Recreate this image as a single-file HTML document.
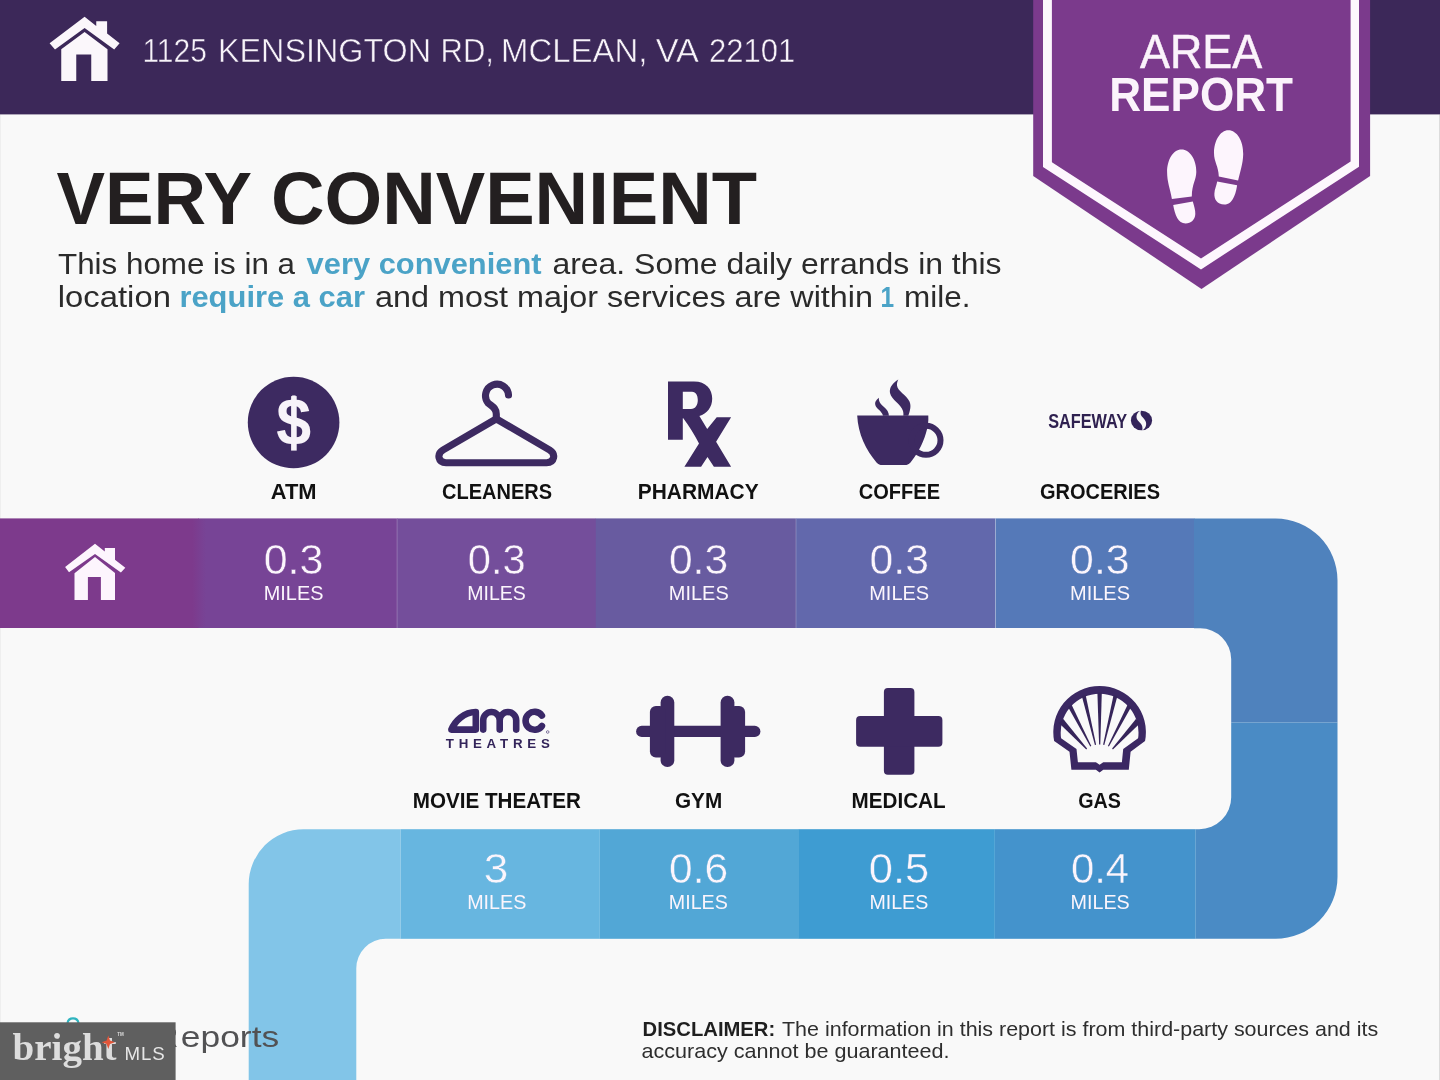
<!DOCTYPE html>
<html>
<head>
<meta charset="utf-8">
<title>Area Report</title>
<style>
html,body{margin:0;padding:0;background:#f9f9f9;}
body{width:1440px;height:1080px;overflow:hidden;position:relative;font-family:"Liberation Sans",sans-serif;}
svg{position:absolute;left:0;top:0;display:block;will-change:transform;}
text{font-family:"Liberation Sans",sans-serif;}
.b{font-weight:bold;}
.serif{font-family:"Liberation Serif",serif;}
</style>
</head>
<body>
<svg width="1440" height="1080" viewBox="0 0 1440 1080">
<!-- page background -->
<rect x="0" y="0" width="1440" height="1080" fill="#f9f9f9"/>
<rect x="1439" y="114.4" width="1" height="966" fill="#dcdcdc"/>
<rect x="0" y="114.4" width="1" height="966" fill="#efefef"/>

<!-- header bar -->
<rect x="0" y="0" width="1440" height="114.4" fill="#3c2859"/>

<!-- ROAD -->
<g id="road">
<!-- top row -->
<rect x="0" y="518.4" width="199" height="109.6" fill="#7d3a8c"/>
<rect x="198.5" y="518.4" width="199" height="109.6" fill="#774496"/>
<rect x="397" y="518.4" width="199" height="109.6" fill="#744e9b"/>
<defs><linearGradient id="g01" x1="0" x2="1" y1="0" y2="0"><stop offset="0" stop-color="#7d3a8c"/><stop offset="1" stop-color="#774496"/></linearGradient></defs>
<rect x="192" y="519.4" width="14" height="107.6" fill="url(#g01)"/>
<rect x="595.8" y="518.4" width="200.4" height="109.6" fill="#685ba0"/>
<rect x="796" y="518.4" width="199.5" height="109.6" fill="#6268ac"/>
<rect x="995.5" y="518.4" width="199" height="109.6" fill="#5579b8"/>
<!-- top-right corner -->
<path d="M1194 518.4 H1275.5 A62 62 0 0 1 1337.5 580.5 V722.5 H1231.2 V659.3 A31 31 0 0 0 1200.2 628.3 H1194 Z" fill="#4f82bd"/>
<!-- bottom-right corner -->
<path d="M1231.2 722.5 H1337.5 V876.8 A62 62 0 0 1 1275.5 938.8 H1195.5 V829.2 H1199.2 A32 32 0 0 0 1231.2 797.2 Z" fill="#4a8bc5"/>
<!-- bottom row -->
<rect x="994.6" y="829.2" width="201" height="109.6" fill="#4493cc"/>
<rect x="798.8" y="829.2" width="196" height="109.6" fill="#3e9cd2"/>
<rect x="599.6" y="829.2" width="199.4" height="109.6" fill="#52a7d6"/>
<rect x="400.5" y="829.2" width="199.3" height="109.6" fill="#67b6e0"/>
<!-- bottom-left corner + down leg -->
<path d="M400.6 829.2 H303.7 A55 55 0 0 0 248.7 884.2 V1080 H356.3 V968.3 A29.5 29.5 0 0 1 385.8 938.8 H400.6 Z" fill="#82c5e8"/>
<!-- seams -->
<g stroke="#ffffff" stroke-opacity="0.22" stroke-width="1">
<line x1="397.1" y1="518.4" x2="397.1" y2="628"/>
<line x1="796" y1="518.4" x2="796" y2="628"/>
<line x1="995.5" y1="518.4" x2="995.5" y2="628"/>
</g>
</g>


<!-- BADGE -->
<g id="badge">
<polygon points="1033.2,0 1370.1,0 1370.1,176 1201.5,288.9 1033.2,176" fill="#7b3a8c"/>
<path d="M1043 0 V166.9 L1201 269.4 L1359 166.7 V0 H1350.6 V161.6 L1201 258.5 L1051.9 162.2 V0 Z" fill="#fdf7fd"/>
<text x="1140" y="67.9" font-size="47.5" fill="#fbf3fb" stroke="#fbf3fb" stroke-width="0.5" textLength="122.2" lengthAdjust="spacingAndGlyphs">AREA</text>
<text x="1109.2" y="111" font-size="47.5" class="b" fill="#fbf3fb" textLength="183.8" lengthAdjust="spacingAndGlyphs">REPORT</text>
<!-- footprints -->
<g fill="#fdf5fd">
<path d="M1181.5 149.5 C1190 149.5 1196.5 160 1196.3 172 C1196.2 180 1192 184 1191.8 196.4 L1171.9 199 C1170 188 1167.1 182 1167.1 172 C1167.1 160 1173 149.5 1181.5 149.5 Z"/>
<path d="M1173.2 205 L1192.8 201.5 C1194 206 1195.5 210 1195.3 214 C1195 220 1191 223.4 1185.6 223.4 C1178 223.4 1175 215 1173.2 205 Z"/>
<path d="M1228.4 130.2 C1237 130.2 1243.4 141 1243.2 154 C1243 164 1240 172 1238.1 180.6 L1218.8 176.5 C1218.5 166 1214 162 1214 153 C1214 141 1220 130.2 1228.4 130.2 Z"/>
<path d="M1217.2 181.6 L1237.1 185.2 C1236 193 1233 204.5 1224.4 204.5 C1217 204.5 1214 199 1214.4 193.5 C1214.6 189 1216.5 186 1217.2 181.6 Z"/>
</g>
</g>

<!-- HEADER CONTENT -->
<g id="hdr">
<g fill="#fbf7fb">
<path d="M84.6 16.7 L96.25 26 V21.25 H107.1 V33.4 L119.6 43.3 L114.2 49.4 L84.6 27.9 L55 49.6 L49.6 43.3 Z"/>
<path d="M84.6 32.1 L107.5 49.2 V81 H91.25 V54.6 H76.25 V81 H61.25 V49.2 Z"/>
</g>
<text x="142.4" y="61.7" font-size="33" fill="#f7f3f9" stroke="#3c2859" stroke-width="0.5" textLength="64.5" lengthAdjust="spacingAndGlyphs">1125</text>
<text x="218.0" y="61.7" font-size="33" fill="#f7f3f9" stroke="#3c2859" stroke-width="0.5" textLength="213.0" lengthAdjust="spacingAndGlyphs">KENSINGTON</text>
<text x="440.5" y="61.7" font-size="33" fill="#f7f3f9" stroke="#3c2859" stroke-width="0.5" textLength="53.5" lengthAdjust="spacingAndGlyphs">RD,</text>
<text x="501.0" y="61.7" font-size="33" fill="#f7f3f9" stroke="#3c2859" stroke-width="0.5" textLength="146.5" lengthAdjust="spacingAndGlyphs">MCLEAN,</text>
<text x="655.7" y="61.7" font-size="33" fill="#f7f3f9" stroke="#3c2859" stroke-width="0.5" textLength="43.2" lengthAdjust="spacingAndGlyphs">VA</text>
<text x="709.1" y="61.7" font-size="33" fill="#f7f3f9" stroke="#3c2859" stroke-width="0.5" textLength="86.2" lengthAdjust="spacingAndGlyphs">22101</text>
</g>

<!-- HEADLINE -->
<text x="56.4" y="223.6" font-size="73.8" class="b" fill="#231f20" textLength="195.6" lengthAdjust="spacingAndGlyphs">VERY</text>
<text x="270.9" y="223.6" font-size="73.8" class="b" fill="#231f20" textLength="486.2" lengthAdjust="spacingAndGlyphs">CONVENIENT</text>

<!-- PARAGRAPH -->
<g font-size="28.6" fill="#2b2b2b">
<text x="58.0" y="274.2" textLength="237.0" lengthAdjust="spacingAndGlyphs">This home is in a</text>
<text x="306.6" y="274.2" class="b" fill="#4ba3c7" textLength="235.0" lengthAdjust="spacingAndGlyphs">very convenient</text>
<text x="552.4" y="274.2" textLength="449.2" lengthAdjust="spacingAndGlyphs">area. Some daily errands in this</text>
<text x="57.8" y="306.5" textLength="113.1" lengthAdjust="spacingAndGlyphs">location</text>
<text x="179.4" y="306.5" class="b" fill="#4ba3c7" textLength="185.6" lengthAdjust="spacingAndGlyphs">require a car</text>
<text x="375.0" y="306.5" textLength="498.0" lengthAdjust="spacingAndGlyphs">and most major services are within</text>
<text x="880.4" y="306.5" class="b" fill="#4ba3c7" textLength="13.6" lengthAdjust="spacingAndGlyphs">1</text>
<text x="904.0" y="306.5" textLength="66.4" lengthAdjust="spacingAndGlyphs">mile.</text>
</g>

<!-- LABELS -->
<g font-size="21.5" class="b" fill="#111111">
<text x="270.8" y="499.1" textLength="45.8" lengthAdjust="spacingAndGlyphs">ATM</text>
<text x="442.0" y="499.1" textLength="110.0" lengthAdjust="spacingAndGlyphs">CLEANERS</text>
<text x="637.8" y="499.1" textLength="120.8" lengthAdjust="spacingAndGlyphs">PHARMACY</text>
<text x="858.75" y="499.1" textLength="81.25" lengthAdjust="spacingAndGlyphs">COFFEE</text>
<text x="1040.0" y="499.1" textLength="120.0" lengthAdjust="spacingAndGlyphs">GROCERIES</text>
<text x="412.8" y="808.2" textLength="168.1" lengthAdjust="spacingAndGlyphs">MOVIE THEATER</text>
<text x="675" y="808.2" textLength="47.2" lengthAdjust="spacingAndGlyphs">GYM</text>
<text x="851.6" y="808.2" textLength="94.0" lengthAdjust="spacingAndGlyphs">MEDICAL</text>
<text x="1078.3" y="808.2" textLength="42.7" lengthAdjust="spacingAndGlyphs">GAS</text>
</g>

<!-- NUMBERS -->
<g font-size="43" fill="#fbf5fc">
<text x="263.7" y="574.4" stroke="#774496" stroke-width="0.45" textLength="59.7" lengthAdjust="spacingAndGlyphs">0.3</text>
<text x="467.8" y="574.4" stroke="#744e9b" stroke-width="0.45" textLength="58.0" lengthAdjust="spacingAndGlyphs">0.3</text>
<text x="668.9" y="574.4" stroke="#685ba0" stroke-width="0.45" textLength="59.2" lengthAdjust="spacingAndGlyphs">0.3</text>
<text x="869.6" y="574.4" stroke="#6268ac" stroke-width="0.45" textLength="59.4" lengthAdjust="spacingAndGlyphs">0.3</text>
<text x="1070.1" y="574.4" stroke="#5579b8" stroke-width="0.45" textLength="59.5" lengthAdjust="spacingAndGlyphs">0.3</text>
<text x="483.8" y="883.3" stroke="#67b6e0" stroke-width="0.45" textLength="24.6" lengthAdjust="spacingAndGlyphs">3</text>
<text x="669.0" y="883.3" stroke="#52a7d6" stroke-width="0.45" textLength="59.1" lengthAdjust="spacingAndGlyphs">0.6</text>
<text x="868.7" y="883.3" stroke="#3e9cd2" stroke-width="0.45" textLength="60.5" lengthAdjust="spacingAndGlyphs">0.5</text>
<text x="1070.9" y="883.3" stroke="#4493cc" stroke-width="0.45" textLength="58.3" lengthAdjust="spacingAndGlyphs">0.4</text>
</g>
<g font-size="21" fill="#fbf5fc">
<text x="263.8" y="600" textLength="59.6" lengthAdjust="spacingAndGlyphs">MILES</text>
<text x="467.2" y="600" textLength="58.6" lengthAdjust="spacingAndGlyphs">MILES</text>
<text x="668.8" y="600" textLength="59.9" lengthAdjust="spacingAndGlyphs">MILES</text>
<text x="869.2" y="600" textLength="60.0" lengthAdjust="spacingAndGlyphs">MILES</text>
<text x="1070.0" y="600" textLength="60.0" lengthAdjust="spacingAndGlyphs">MILES</text>
<text x="467.2" y="908.9" textLength="59.2" lengthAdjust="spacingAndGlyphs">MILES</text>
<text x="668.8" y="908.9" textLength="59.0" lengthAdjust="spacingAndGlyphs">MILES</text>
<text x="869.4" y="908.9" textLength="58.9" lengthAdjust="spacingAndGlyphs">MILES</text>
<text x="1070.5" y="908.9" textLength="59.3" lengthAdjust="spacingAndGlyphs">MILES</text>
</g>

<!-- DISCLAIMER -->
<g font-size="19.8" fill="#2e2e2e">
<text x="642.6" y="1035.6" class="b" fill="#1f1f1f" textLength="132.6" lengthAdjust="spacingAndGlyphs">DISCLAIMER:</text>
<text x="782.0" y="1035.6" textLength="596.2" lengthAdjust="spacingAndGlyphs">The information in this report is from third-party sources and its</text>
<text x="641.4" y="1057.5" textLength="308.2" lengthAdjust="spacingAndGlyphs">accuracy cannot be guaranteed.</text>
</g>


<!-- ICONS -->
<g id="icons" fill="#3d2a61">
<!-- ATM -->
<circle cx="293.6" cy="422.5" r="45.8"/>
<text id="dollar" x="276.3" y="445.3" font-size="67" class="b" fill="#f7f3f9" textLength="34.9" lengthAdjust="spacingAndGlyphs">$</text>
<rect x="291.1" y="396.1" width="5.6" height="54.5" fill="#f7f3f9"/>
<!-- hanger -->
<g fill="none" stroke="#3d2a61" stroke-width="7.1" stroke-linecap="round" stroke-linejoin="round">
<path d="M508.5 395 A11.5 11.5 0 1 0 488.2 403.1 C492 406.5 496.3 408 496.3 414 L496.3 418.9"/>
<path d="M496.3 418.9 L443 450 C436.5 454 438 462.7 446 462.7 L546.6 462.7 C554.6 462.7 556.1 454 549.6 450 Z"/>
</g>
<!-- Rx -->
<path fill-rule="evenodd" d="M668 381.4 H694 C706 381.4 712.2 389 712.2 398.5 C712.2 407.5 707 413.5 699.4 416.1 L707.2 429 L716.7 417.2 H731.1 L716.1 441.7 L731.1 466.7 H713.9 L707.5 457 L701.1 466.7 H684.4 L699 443.5 C694.5 435 689.5 426.5 683.3 418.3 L682.8 418.3 V439.7 H668 Z M682.8 391.7 H692 C696 391.7 697.8 395.5 697.8 400 C697.8 405 695.5 408.9 691 408.9 H682.8 Z"/>
<!-- coffee -->
<path d="M857.2 415.6 H928.3 C928.6 421 928 427 926 433 C922.5 445 916 456 910.5 462.5 C908.5 464.5 907 465 905 465 H882 C880 465 878.5 464.5 876.5 462.5 C866 450 858 434 857.2 415.6 Z"/>
<circle cx="926" cy="440.3" r="14.5" fill="none" stroke="#3d2a61" stroke-width="6"/>
<path d="M898.3 379.4 C893 383 889 387 890 393 C891.5 400 901 404 903 411 C903.5 413 903.5 414.5 903.3 415.8 H908.3 C910 411 911.5 406 909.5 401.5 C906.5 395 897.5 391 897 385.5 C896.8 383 897.5 381 898.3 379.4 Z"/>
<path d="M878.9 397.8 C876 400 874.5 402.5 875.3 405 C876.5 409 882 411 883 415.8 H888.9 C889 412.5 887 409.5 884 407 C881 404.5 878.5 402 878.9 397.8 Z"/>
<!-- safeway -->
<text x="1048.2" y="427.5" font-size="20" class="b" fill="#2f2150" textLength="79.0" lengthAdjust="spacingAndGlyphs">SAFEWAY</text>
<ellipse cx="1141.5" cy="420.5" rx="10.6" ry="9.8" fill="#33245a"/>
<path d="M1141 410.6 C1136.5 412.5 1135.5 417 1137.5 420 C1139.5 423 1143.5 424.5 1142.3 430.4 C1147 427.5 1147 422.5 1144.5 419.5 C1142 416.5 1139.5 415 1141 410.6 Z" fill="#f9f9f9"/>
<!-- amc -->
<g fill="none" stroke="#3a2868" stroke-width="6.6" stroke-linecap="round" stroke-linejoin="round">
<path d="M475.8 712.05 V729.6 H451.4 C455 721 464 712.05 475.8 712.05"/>
<path d="M483.2 729.6 V720.3 A8.25 8.25 0 0 1 499.7 720.3 V729.6 M499.7 720.3 A8.25 8.25 0 0 1 516.2 720.3 V729.6"/>
<path d="M541.9 715.6 A9 9 0 1 0 541.9 726"/>
</g>
<circle cx="547.7" cy="732" r="1.3" fill="none" stroke="#3a2868" stroke-width="0.6"/>
<text x="445.75" y="747.5" font-size="13.3" class="b" fill="#33245a" textLength="104" lengthAdjust="spacing">THEATRES</text>
<!-- gym -->
<rect x="636.1" y="725.8" width="124.3" height="11.2" rx="5.6"/>
<rect x="660.6" y="695.8" width="13.7" height="71.3" rx="6.8"/>
<rect x="649.9" y="706" width="16" height="51.4" rx="6"/>
<rect x="720.6" y="695.8" width="13.8" height="71.3" rx="6.8"/>
<rect x="729" y="706" width="16.1" height="51.4" rx="6"/>
<!-- medical -->
<rect x="883.9" y="688.1" width="30.5" height="86.6" rx="4"/>
<rect x="856.1" y="716.1" width="86.3" height="30.6" rx="4"/>
<!-- shell -->
<path fill-rule="evenodd" fill="#3b2863" d="M1071.4 769.8 L1069.5 751.8 L1054.15 741.1 A46.3 46.3 0 1 1 1145.05 741.1 L1130.6 751.8 L1128.8 769.8 H1103.3 L1099.6 772.6 L1095.9 769.8 Z M1077.9 762.2 L1076.5 749 L1061.1 738.3 A38.9 38.9 0 1 1 1138.1 738.3 L1123.2 749 L1121.9 762.2 H1103.3 L1099.6 764.7 L1095.9 762.2 Z"/>
<g fill="#36255a">
<polygon points="1101.8,692.4 1097.4,692.4 1099.1,744.4 1100.3,744.4"/>
<polygon points="1085.7,695.2 1081.8,696.1 1094.9,744.9 1096.1,744.7"/>
<polygon points="1113.5,695.2 1117.4,696.1 1104.3,744.9 1103.1,744.7"/>
<polygon points="1071.6,704.7 1067.9,706.7 1090.3,746.5 1091.3,745.9"/>
<polygon points="1127.6,704.7 1131.3,706.7 1108.9,746.5 1107.9,745.9"/>
<polygon points="1063.3,718.9 1058.9,723.0 1086.3,749.4 1087.1,748.6"/>
<polygon points="1135.9,718.9 1140.3,723.0 1112.9,749.4 1112.1,748.6"/>
</g>
</g>

<!-- home icon on road -->
<g fill="#fdf5fd" id="home2">
<path d="M95 543.8 L104.8 551.6 V548.1 H115 V559.7 L125.3 567.8 L120.9 572.6 L95 554 L69 572.2 L65.1 567 Z"/>
<path d="M95 557.1 L115 572.9 V600 H100.9 V577 H87.9 V600 H74.5 V573.3 Z"/>
</g>

<!-- bottom-left logo remnants + watermark -->
<g id="wm">
<path d="M67.5 1023 A5.6 5.6 0 0 1 78.5 1023" fill="none" stroke="#2fb4bf" stroke-width="2.2"/>
<text x="157.3" y="1046.9" font-size="29" fill="#525254"><tspan>R</tspan><tspan x="180.8" textLength="98.4" lengthAdjust="spacingAndGlyphs">eports</tspan></text>
<rect x="0" y="1022.3" width="175.6" height="57.7" fill="#5f5f5f"/>
<text x="12.6" y="1060.4" font-size="38.5" class="serif b" fill="#dddddd" textLength="104" lengthAdjust="spacingAndGlyphs">bright</text>
<path d="M108.3 1035.6 L110 1040.6 L115 1042.3 L110 1044 L108.3 1049 L106.6 1044 L101.6 1042.3 L106.6 1040.6 Z" fill="#e2563a"/>
<text x="117.2" y="1036" font-size="4.5" fill="#dddddd" class="b">TM</text>
<text x="124.6" y="1060.4" font-size="18.7" fill="#e6e6e6" textLength="40.2" lengthAdjust="spacing">MLS</text>
</g>

</svg>
</body>
</html>
